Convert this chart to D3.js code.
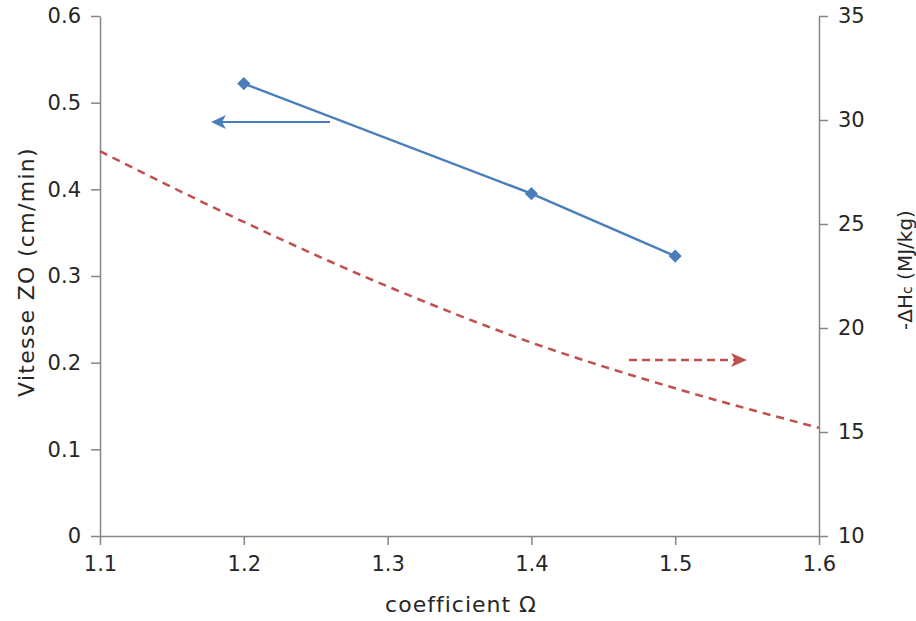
<!DOCTYPE html>
<html><head><meta charset="utf-8">
<script src="https://cdn.jsdelivr.net/npm/d3@7"></script>
<style>body{margin:0;background:#fff}svg{display:block}text{font-family:"DejaVu Sans",sans-serif;fill:#262626}</style>
</head><body><svg id="c" width="916" height="621"></svg>
<script>
const xTicks = [1.1, 1.2, 1.3, 1.4, 1.5, 1.6];
const leftTicks = [0, 0.1, 0.2, 0.3, 0.4, 0.5, 0.6];
const rightTicks = [10, 15, 20, 25, 30, 35];
const blueX = [1.2, 1.4, 1.5];
const blueY = [0.522, 0.395, 0.323];
const redX = [1.1, 1.2, 1.3, 1.4, 1.5, 1.6];
const redY = [28.5, 25.1, 22.0, 19.3, 17.1, 15.2];

const svg = d3.select("#c");
const L = 100, R = 819, T = 16, B = 536;
const x = d3.scaleLinear().domain([1.1, 1.6]).range([L, R]);
const yL = d3.scaleLinear().domain([0, 0.6]).range([B, T]);
const yR = d3.scaleLinear().domain([10, 35]).range([B, T]);
const axisCol = "#868686";
const FS = 21;

function style(g){
  g.select(".domain").attr("stroke", axisCol).attr("stroke-width", 1.5);
  g.selectAll(".tick line").attr("stroke", axisCol).attr("stroke-width", 1.5);
  g.selectAll(".tick text").attr("font-size", FS).attr("fill", "#262626");
}
svg.append("g").attr("transform", `translate(0,${B})`)
  .call(d3.axisBottom(x).tickValues(xTicks).tickFormat(d3.format(".1f")).tickSize(9).tickSizeOuter(0).tickPadding(11))
  .call(style);
svg.append("g").attr("transform", `translate(${L},0)`)
  .call(d3.axisLeft(yL).tickValues(leftTicks).tickFormat(d => d === 0 ? "0" : d3.format(".1f")(d)).tickSize(9).tickSizeOuter(0).tickPadding(10))
  .call(style);
svg.append("g").attr("transform", `translate(${R},0)`)
  .call(d3.axisRight(yR).tickValues(rightTicks).tickSize(9).tickSizeOuter(0).tickPadding(10))
  .call(style);

// titles
svg.append("text").attr("x", 461).attr("y", 612).attr("text-anchor", "middle").attr("font-size", 22).attr("letter-spacing", 1).text("coefficient Ω");
svg.append("text").attr("transform", "translate(34,272) rotate(-90)").attr("text-anchor", "middle").attr("font-size", 22).attr("letter-spacing", 1.3).text("Vitesse ZO (cm/min)");
const rt = svg.append("text").attr("transform", "translate(912,270) rotate(-90)").attr("text-anchor", "middle").attr("font-size", 20);
rt.append("tspan").text("-ΔH");
rt.append("tspan").attr("font-size", 14).text("c");
rt.append("tspan").text(" (MJ/kg)");

// red dashed curve
const redData = redX.map((d, i) => [d, redY[i]]);
svg.append("path").datum(redData)
  .attr("d", d3.line().x(d => x(d[0])).y(d => yR(d[1])).curve(d3.curveMonotoneX))
  .attr("fill", "none").attr("stroke", "#c0504d").attr("stroke-width", 2.5).attr("stroke-dasharray", "8,6");

// blue line
const blueData = blueX.map((d, i) => [d, blueY[i]]);
svg.append("path").datum(blueData)
  .attr("d", d3.line().x(d => x(d[0])).y(d => yL(d[1])))
  .attr("fill", "none").attr("stroke", "#4a7ebb").attr("stroke-width", 2.5);
svg.selectAll(".mk").data(blueData).enter().append("path")
  .attr("transform", d => `translate(${x(d[0])},${yL(d[1])})`)
  .attr("d", d3.symbol(d3.symbolDiamond2, 110)).attr("fill", "#4a7ebb");

// arrows
svg.append("path").attr("d", "M330,122 L215,122").attr("stroke", "#4a7ebb").attr("stroke-width", 2).attr("fill", "none");
svg.append("path").attr("d", "M226,115 L211,122 L226,129 L222,122 Z").attr("fill", "#4a7ebb");
svg.append("path").attr("d", "M629,360 L735,360").attr("stroke", "#c0504d").attr("stroke-width", 2.5).attr("stroke-dasharray", "8,5").attr("fill", "none");
svg.append("path").attr("d", "M731,353 L747,360 L731,367 L735,360 Z").attr("fill", "#c0504d");
</script></body></html>
